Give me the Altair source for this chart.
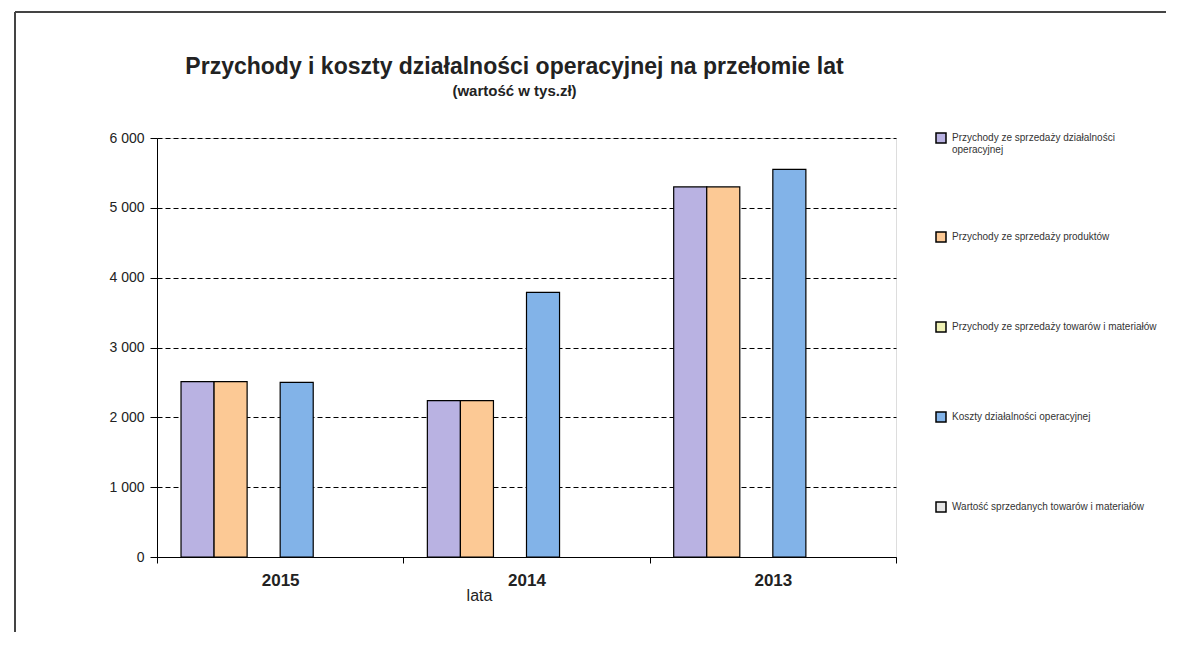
import altair as alt
import pandas as pd

years = ["2015", "2014", "2013"]
series = [
    "Przychody ze sprzedaży działalności operacyjnej",
    "Przychody ze sprzedaży produktów",
    "Przychody ze sprzedaży towarów i materiałów",
    "Koszty działalności operacyjnej",
    "Wartość sprzedanych towarów i materiałów",
]
colors = ["#b9b2e2", "#fcc995", "#eef0b4", "#82b3e8", "#e6e6e6"]

v_dzialalnosc = [2510, 2240, 5300]
v_produkty = [2510, 2240, 5300]
v_towary = [0, 0, 0]
v_koszty = [2500, 3790, 5550]
v_wartosc = [0, 0, 0]

rows = []
for s, vals in zip(series, [v_dzialalnosc, v_produkty, v_towary, v_koszty, v_wartosc]):
    for y, v in zip(years, vals):
        rows.append({"rok": y, "seria": s, "wartosc": v})
df = pd.DataFrame(rows)

label_expr = (
    "datum.label == 'Przychody ze sprzedaży działalności operacyjnej' ? "
    "['Przychody ze sprzedaży działalności', 'operacyjnej'] : datum.label"
)

bars = alt.Chart(df).transform_filter("datum.wartosc > 0").mark_bar(
    stroke="black", strokeWidth=1.2
).encode(
    x=alt.X("rok:N", sort=years,
            scale=alt.Scale(paddingInner=0, paddingOuter=0),
            axis=alt.Axis(title="lata", labelAngle=0, labelFontSize=17, labelFontWeight="bold",
                          labelColor="#222", labelPadding=9, tickBand="extent", tickSize=6,
                          tickColor="black", domainColor="black", titleFontSize=16,
                          titleFontWeight="normal", titleColor="#222", titleX=322, titleY=30,
                          titleBaseline="top", labelFont="Liberation Sans", titleFont="Liberation Sans")),
    xOffset=alt.XOffset("seria:N",
                        scale=alt.Scale(domain=series + ["-"], paddingOuter=0.727, paddingInner=0)),
    y=alt.Y("wartosc:Q",
            scale=alt.Scale(domain=[0, 6000], nice=False),
            axis=alt.Axis(title=None, values=[0, 1000, 2000, 3000, 4000, 5000, 6000],
                          labelExpr="replace(format(datum.value, ','), ',', ' ')",
                          grid=True, gridColor="black", gridDash=[5, 3], gridWidth=1,
                          domainColor="black", tickColor="black", tickSize=7,
                          labelFontSize=14, labelColor="#222", labelPadding=6,
                          labelFont="Liberation Sans")),
    color=alt.Color("seria:N", scale=alt.Scale(domain=series, range=colors),
                    legend=alt.Legend(title=None, orient="none", legendX=778, legendY=-6,
                                      symbolType="square", symbolSize=100,
                                      symbolStrokeColor="black", symbolStrokeWidth=1.5,
                                      labelFontSize=10, labelColor="#333", labelLimit=300,
                                      rowPadding=74, labelExpr=label_expr, labelOffset=5,
                                      labelFont="Liberation Sans")),
)

frame_top = alt.Chart(df).mark_rule(color="#444", strokeWidth=1.5, clip=False).encode(
    x=alt.value(-142), x2=alt.value(1030), y=alt.value(-126))
frame_left = alt.Chart(df).mark_rule(color="#444", strokeWidth=1.5, clip=False).encode(
    x=alt.value(-142), y=alt.value(-126), y2=alt.value(505))

chart = alt.layer(frame_top, frame_left, bars).properties(
    width=739, height=419,
    title=alt.TitleParams(
        text="Przychody i koszty działalności operacyjnej na przełomie lat",
        subtitle="(wartość w tys.zł)",
        fontSize=23, fontWeight="bold", color="#222", font="Liberation Sans",
        subtitleFontSize=15, subtitleFontWeight="bold", subtitleColor="#222",
        subtitleFont="Liberation Sans", subtitlePadding=5, offset=-88, dx=-12,
        anchor="middle"),
    autosize=alt.AutoSizeParams(type="none"),
    padding={"left": 149, "top": 130, "right": 270, "bottom": 75},
).configure_view(stroke="black", strokeWidth=1.2).configure(background="white")

chart.save("out.html", embed_options={"renderer": "svg", "actions": False})
